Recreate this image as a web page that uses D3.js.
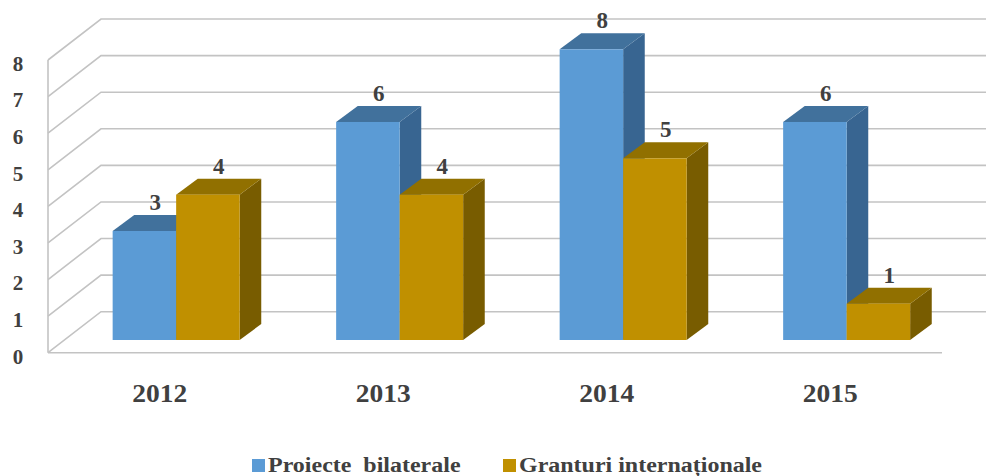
<!DOCTYPE html>
<html lang="ro">
<head>
<meta charset="UTF-8">
<title>Proiecte bilaterale si granturi internationale</title>
<script src="https://cdnjs.cloudflare.com/ajax/libs/d3/7.8.5/d3.min.js"></script>
<style>
  body { margin: 0; background: #fff; }
  svg { display: block; }
  text { font-family: "Times New Roman", "Liberation Serif", Tinos, Times, serif; font-weight: bold; fill: #404040; }
</style>
</head>
<body>
<div id="chart"></div>
<script>
// data
const years = ["2012", "2013", "2014", "2015"];
const seriesNames = ["Proiecte  bilaterale", "Granturi internaționale"];
const bilaterale = [3, 6, 8, 6];
const granturi = [4, 4, 5, 1];
const yTicks = [0, 1, 2, 3, 4, 5, 6, 7, 8];

const W = 986, H = 476;
const svg = d3.select("#chart").append("svg").attr("width", W).attr("height", H);

// walls (front edge of the floor) and depth offsets
const floorX0 = 48, floorX1 = 942;
const wallDx = 53, wallDy = -41;
const barDx = 21.6, barDy = -16;
const barShiftX = 16.4;           // bars sit a bit behind the front edge
const groupW = 127;

const x = d3.scaleBand().domain(years).range([floorX0, floorX1]);
const xs = d3.scaleBand().domain(seriesNames).range([0, groupW]);
const yWall = d3.scaleLinear().domain([0, 8]).range([352.7, 60]);
const yBar = d3.scaleLinear().domain([0, 8]).range([340, 49.3]);

const colors = [
  { front: "#5b9bd5", top: "#41719c", side: "#386591" },
  { front: "#c09000", top: "#917000", side: "#785c00" }
];

const grid = svg.append("g").attr("fill", "none").attr("stroke", "#c3c3c3").attr("stroke-width", 1.6);

// gridlines on the side wall and back wall
yTicks.forEach(v => {
  const yf = yWall(v);
  grid.append("path")
    .attr("d", `M${floorX0},${yf} L${floorX0 + wallDx},${yf + wallDy} L${floorX1 + wallDx},${yf + wallDy}`);
});
// front vertical edge of the side wall
grid.append("line")
  .attr("x1", floorX0).attr("x2", floorX0)
  .attr("y1", yWall(8)).attr("y2", yWall(0));
// front edge of the floor
grid.append("line")
  .attr("x1", floorX0).attr("x2", floorX1)
  .attr("y1", yWall(0)).attr("y2", yWall(0));

// y axis labels
svg.append("g").selectAll("text")
  .data(yTicks)
  .join("text")
  .attr("x", 18)
  .attr("y", d => yWall(d) + 3.5)
  .attr("dy", "0.35em")
  .attr("text-anchor", "middle")
  .attr("font-size", 21)
  .text(d => d);

// bars
const values = [bilaterale, granturi];
const bars = [];
years.forEach((yr, i) => {
  seriesNames.forEach((s, j) => {
    const bx = x(yr) + (x.bandwidth() - groupW) / 2 + barShiftX + xs(s);
    bars.push({ x: bx, w: xs.bandwidth(), yt: yBar(values[j][i]), yb: yBar(0), v: values[j][i], c: colors[j] });
  });
});

const barG = svg.append("g");
bars.forEach(b => {
  const g = barG.append("g");
  g.append("polygon")
    .attr("points", [[b.x + b.w, b.yt], [b.x + b.w + barDx, b.yt + barDy], [b.x + b.w + barDx, b.yb + barDy], [b.x + b.w, b.yb]].join(" "))
    .attr("fill", b.c.side);
  g.append("polygon")
    .attr("points", [[b.x, b.yt], [b.x + b.w, b.yt], [b.x + b.w + barDx, b.yt + barDy], [b.x + barDx, b.yt + barDy]].join(" "))
    .attr("fill", b.c.top);
  g.append("rect")
    .attr("x", b.x).attr("y", b.yt)
    .attr("width", b.w).attr("height", b.yb - b.yt)
    .attr("fill", b.c.front);
});

// value labels
svg.append("g").selectAll("text")
  .data(bars)
  .join("text")
  .attr("x", d => d.x + d.w / 2 + barDx / 2)
  .attr("y", d => d.yt + barDy - 5)
  .attr("text-anchor", "middle")
  .attr("font-size", 23)
  .text(d => d.v);

// category labels
svg.append("g").selectAll("text")
  .data(years)
  .join("text")
  .attr("transform", d => `translate(${x(d) + x.bandwidth() / 2},401.5) scale(1.1,1)`)
  .attr("text-anchor", "middle")
  .attr("font-size", 25)
  .text(d => d);

// legend
const legend = svg.append("g");
const legendX = [252, 503];
seriesNames.forEach((s, j) => {
  const g = legend.append("g").attr("transform", `translate(${legendX[j]},459)`);
  g.append("rect").attr("width", 13).attr("height", 13).attr("fill", colors[j].front);
  g.append("text")
    .attr("transform", "translate(16,13) scale(1.09,1)")
    .attr("font-size", 22)
    .style("white-space", "pre")
    .text(s);
});
</script>
</body>
</html>
